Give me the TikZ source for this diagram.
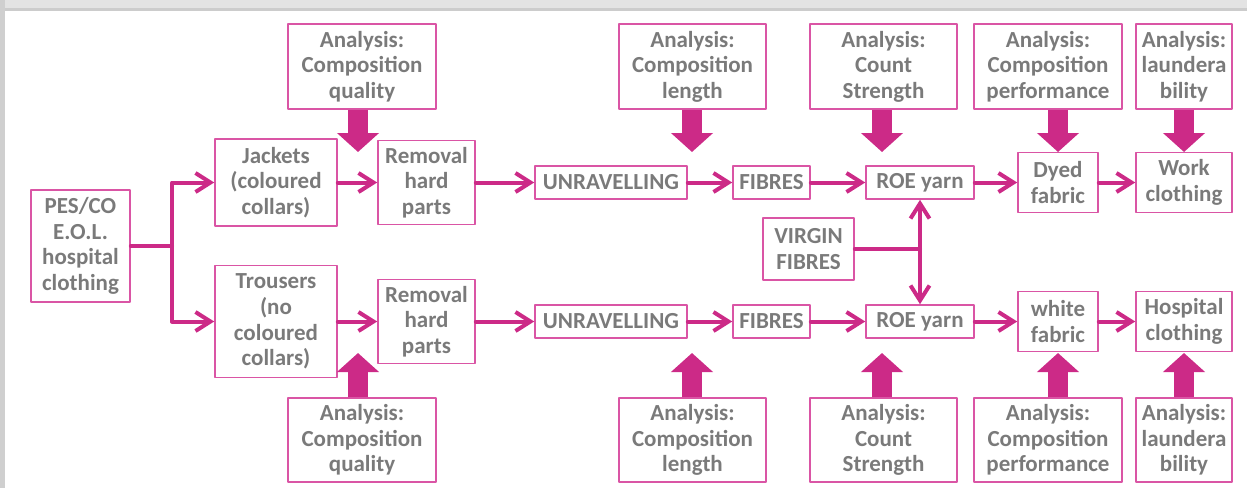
\documentclass[tikz,border=0pt]{standalone}
\usepackage{fontspec}
\setmainfont{Carlito}
\usepackage{tikz}
\usetikzlibrary{arrows.meta}
\definecolor{pinkline}{HTML}{CC2A87}
\definecolor{pinkbox}{HTML}{DA55A5}
\definecolor{txtgray}{HTML}{7A7A7A}

\begin{document}
\begin{tikzpicture}[line cap=round,line join=round,>={Straight Barb[length=7.5pt,width=9.5pt]},x=0.5pt,y=-0.5pt,
    box/.style={draw=pinkbox,line width=0.8pt,text=txtgray,font=\fontsize{11.5}{12.8}\selectfont\bfseries,align=center,inner sep=0pt},
    flow/.style={draw=pinkline,line width=2pt},
    bigarrow/.style={draw=pinkline,line width=10pt,line cap=butt,-{Triangle[length=9.5pt,width=20.5pt]}}]
      \useasboundingbox (0,0) rectangle (1247,488);
      % window edge
      \fill[gray!22] (0,0) rectangle (1247,10);
      \fill[gray!40] (0,8) rectangle (1247,11);
      \fill[gray!38] (0,0) rectangle (5,488);

      \node[box,minimum width=49.5pt,minimum height=56pt] (pes) at (80.5,246) {PES/CO\\E.O.L.\\hospital\\clothing};
      \node[box,minimum width=61pt,minimum height=43.5pt] (jackets) at (276,182.5) {Jackets\\(coloured\\collars)};
      \node[box,minimum width=61pt,minimum height=56pt] (trousers) at (276,321.5) {Trousers\\(no\\coloured\\collars)};
      \node[box,minimum width=45.5pt,minimum height=31pt] (virgin) at (808.5,249) {VIRGIN\\FIBRES};

      \foreach \r/\y in {1/182.5,2/321.5}{
        \node[box,minimum width=48.5pt,minimum height=42pt] (rem\r) at (426.5,\y) {Removal\\hard\\parts};
        \node[box,minimum width=76pt,minimum height=16.5pt] (unr\r) at (611,\y) {UNRAVELLING};
        \node[box,minimum width=38.5pt,minimum height=16.5pt] (fib\r) at (771.5,\y) {FIBRES};
        \node[box,minimum width=54pt,minimum height=16.5pt] (roe\r) at (920,\y) {ROE yarn};
      }
      \node[box,minimum width=40pt,minimum height=30pt] (fab1) at (1058,182.5) {Dyed\\fabric};
      \node[box,minimum width=40pt,minimum height=30pt] (fab2) at (1058,321.5) {white\\fabric};
      \node[box,minimum width=48pt,minimum height=30pt] (clo1) at (1184,182.5) {Work\\clothing};
      \node[box,minimum width=48pt,minimum height=30pt] (clo2) at (1184,321.5) {Hospital\\clothing};

      % analysis boxes and their big arrows
      \foreach \n/\cx/\w/\ax/\txt in {cq/362/74/358/{Composition\\quality},cl/692.5/73.5/692/{Composition\\length},
          cs/883.5/73.5/882/{Count\\Strength},cp/1048/74/1058/{Composition\\performance},lb/1184/48/1184/{laundera\\bility}}{
        \node[box,minimum width=\w pt,minimum height=42.5pt] (top\n) at (\cx,66.5) {Analysis:\\\txt};
        \node[box,minimum width=\w pt,minimum height=42pt] (bot\n) at (\cx,440) {Analysis:\\\txt};
        \coordinate (tipt\n) at (\ax,152);
        \coordinate (tipb\n) at (\ax,353);
        \draw[bigarrow] (top\n.south -| tipt\n) -- (tipt\n);
        \draw[bigarrow] (bot\n.north -| tipb\n) -- (tipb\n);
      }

      \coordinate (fork) at (172,246);
      \draw[flow] (pes.east) -- (fork);
      \draw[flow,->] (fork) |- (jackets.west);
      \draw[flow,->] (fork) |- (trousers.west);
      \draw[flow,->] (jackets.east) -- (rem1.west);
      \draw[flow,->] (trousers.east) -- (rem2.west);
      \foreach \r in {1,2}{
        \draw[flow,->] (rem\r.east) -- (unr\r.west);
        \draw[flow,->] (unr\r.east) -- (fib\r.west);
        \draw[flow,->] (fib\r.east) -- (roe\r.west);
        \draw[flow,->] (roe\r.east) -- (fab\r.west);
        \draw[flow,->] (fab\r.east) -- (clo\r.west);
      }

      \coordinate (vj) at (virgin.east -| roe1.south);
      \draw[flow] (virgin.east) -- (vj);
      \draw[flow,->] (vj) -- (roe1.south);
      \draw[flow,->] (vj) -- (roe2.north);
\end{tikzpicture}
\end{document}
